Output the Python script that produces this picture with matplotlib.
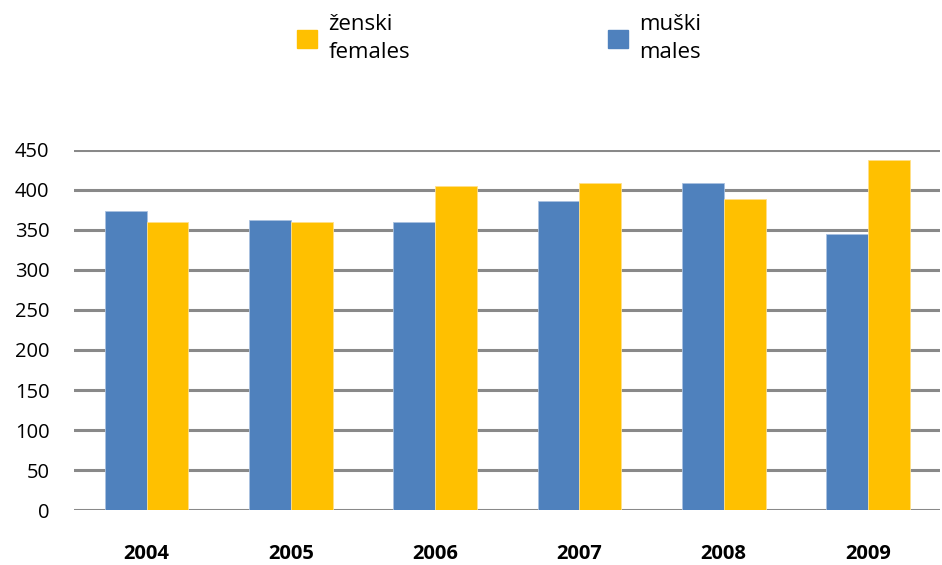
import numpy as np
import matplotlib
matplotlib.use("Agg")
import matplotlib.pyplot as plt
from matplotlib.patches import Patch

plt.rcParams['font.family'] = ['Open Sans', 'DejaVu Sans']

years = ['2004', '2005', '2006', '2007', '2008', '2009']
males = [374, 362, 360, 386, 408, 345]
females = [360, 360, 405, 408, 388, 437]

blue = '#4F81BD'
yellow = '#FFC000'

fig = plt.figure(figsize=(9.42, 5.65), dpi=100)
ax = fig.add_axes([0.079, 0.097, 0.919, 0.638])

x = np.arange(len(years))
w = 0.29
ax.bar(x - w / 2, males, w, color=blue, edgecolor='#a9c1e0', linewidth=0.6, zorder=3)
ax.bar(x + w / 2, females, w, color=yellow, edgecolor='#ffe08a', linewidth=0.6, zorder=3)

ax.set_xlim(-0.5, len(years) - 0.5)
ax.set_ylim(0, 450)
ax.set_yticks(np.arange(0, 451, 50))
ax.yaxis.grid(True, color='#898989', linewidth=2.2, zorder=0)
ax.set_axisbelow(True)
for s in ax.spines.values():
    s.set_visible(False)
ax.tick_params(axis='both', length=0)
ax.tick_params(axis='y', labelsize=14.5, pad=18)
ax.set_xticks(x)
ax.set_xticklabels(years, fontsize=14.5, fontweight='bold')
ax.tick_params(axis='x', pad=24)

handles = [Patch(color=yellow), Patch(color=blue)]
leg = fig.legend(handles, ['ženski\nfemales', 'muški\nmales'], loc='center',
                 bbox_to_anchor=(0.530, 0.932), ncol=2, frameon=False, fontsize=16,
                 handlelength=0.9, handleheight=0.9, handletextpad=0.5,
                 columnspacing=8.9)
for t in leg.get_texts():
    t.set_linespacing(1.4)

fig.savefig('out.png', dpi=100)
